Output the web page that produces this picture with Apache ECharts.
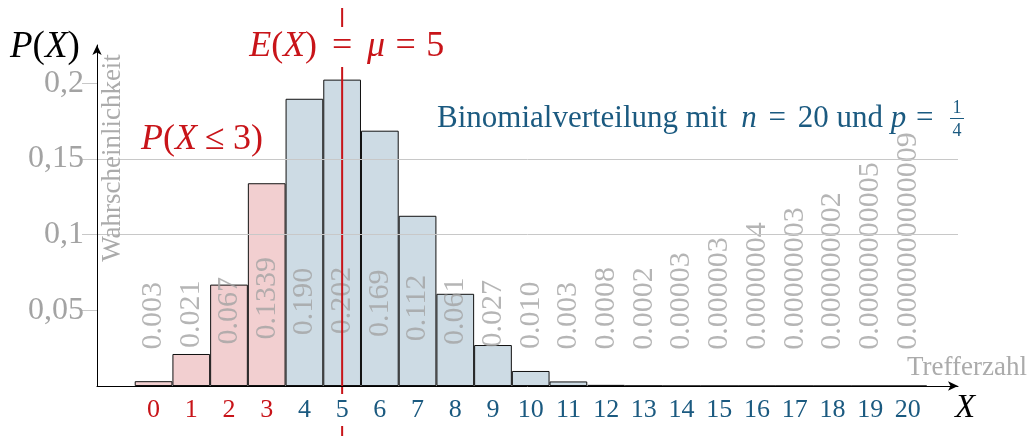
<!DOCTYPE html>
<html><head><meta charset="utf-8">
<script src="https://cdn.jsdelivr.net/npm/echarts@6/dist/echarts.min.js"></script>
<style>html,body{margin:0;padding:0;background:#fff}#c{width:1032px;height:436px}</style>
</head><body><div id="c"></div>
<script>
// ---- data ----
const categories = [0,1,2,3,4,5,6,7,8,9,10,11,12,13,14,15,16,17,18,19,20];
const probabilities = [0.00317, 0.02114, 0.06695, 0.13390, 0.18969, 0.20233, 0.16861, 0.11241, 0.06089, 0.02706, 0.00992, 0.00301, 0.00075, 0.00015, 0.000026, 0.0000034, 0.00000035, 0.000000028, 0.0000000016, 0.000000000054, 0.00000000000091];
const valueLabels = ["0.003","0.021","0.067","0.1339","0.190","0.202","0.169","0.112","0.061","0.027","0.010","0.003","0.0008","0.0002","0.00003","0.000003","0.0000004","0.00000003","0.000000002","0.00000000005","0.0000000000009"];
const yTicks = [0.05, 0.1, 0.15, 0.2];
const cumulativeUpTo = 3;   // P(X <= 3)
const expectedValue = 5;    // E(X) = mu

// ---- style ----
const FONT = '"Liberation Serif", "DejaVu Serif", serif';
const RED = '#c81419', BLUE = '#1b5a80', GREY = '#a3a3a3', LGREY = '#ababab';
const PINK = '#f2cfd0', LBLUE = '#cddbe4';
const X_MIN = -1.5, X_MAX = 21.33, Y_MAX = 0.2252;
const GRID = {left: 97, right: 74, top: 45, bottom: 50};

const chart = echarts.init(document.getElementById('c'), null, {renderer: 'canvas'});
const gridW = 1032 - GRID.left - GRID.right;
const unit = gridW / (X_MAX - X_MIN);

const barData = categories.map((k, i) => [k, probabilities[i]]);
const labelData = categories.map((k, i) => [k, 0.024 + 0.05 * probabilities[i]]);

chart.setOption({
  animation: false,
  grid: GRID,
  xAxis: {
    type: 'value', min: X_MIN, max: X_MAX, z: 10,
    splitLine: {show: false},
    axisTick: {show: false},
    axisLine: {show: true, onZero: false, lineStyle: {color: '#000', width: 1}, symbol: ['none', 'arrow'], symbolSize: [7, 10]},
    axisLabel: {
      customValues: categories, fontFamily: FONT, fontSize: 26, margin: 8,
      backgroundColor: '#fff', padding: [3, 1],
      color: (v) => (v <= cumulativeUpTo ? RED : BLUE)
    }
  },
  yAxis: {
    type: 'value', min: 0, max: Y_MAX, interval: 0.05, z: 10,
    splitLine: {show: true, showMinLine: false, showMaxLine: false, lineStyle: {color: '#c8c8c8', width: 1}},
    axisTick: {show: true, customValues: yTicks, length: 15, lineStyle: {color: '#c8c8c8'}},
    axisLine: {show: true, onZero: false, lineStyle: {color: '#000', width: 1}, symbol: ['none', 'arrow'], symbolSize: [7, 10]},
    axisLabel: {
      customValues: yTicks, fontFamily: FONT, fontSize: 32, color: GREY, margin: 13,
      formatter: (v) => String(v).replace('.', ',')
    }
  },
  series: [
    {
      type: 'bar', data: barData, barWidth: unit, z: 2,
      itemStyle: {
        borderColor: '#111', borderWidth: 1,
        color: (p) => (p.data[0] <= cumulativeUpTo ? PINK : LBLUE)
      }
    },
    {
      type: 'scatter', data: labelData, symbolSize: 0, z: 4, silent: true,
      label: {
        show: true, position: 'inside', rotate: 90, align: 'left', verticalAlign: 'middle',
        fontFamily: FONT, fontSize: 30, color: GREY,
        formatter: (p) => valueLabels[p.dataIndex]
      }
    }
  ]
});

const ex = chart.convertToPixel({xAxisIndex: 0}, expectedValue);
const rich = (size, color, extra) => Object.assign({
  i: {fontFamily: FONT, fontStyle: 'italic', fontSize: size, color: color, fill: color},
  r: {fontFamily: FONT, fontSize: size, color: color, fill: color}
}, extra || {});
const tok = (size, color, w, italic) => ({fontFamily: FONT, fontStyle: italic ? 'italic' : 'normal', fontSize: size, color: color, fill: color, width: w, align: 'center'});

chart.setOption({
  graphic: {elements: [
    {type: 'line', z: 5, shape: {x1: ex, y1: 8, x2: ex, y2: 436}, style: {stroke: RED, lineWidth: 2}},
    {type: 'text', z: 20, x: ex - 96, y: 47, style: {
      text: '{i|E}{r|(}{i|X}{r|)}{a|=}{i|μ}{b|=}{r|5}',
      rich: rich(36, RED, {a: tok(36, RED, 50), b: tok(36, RED, 41)}),
      align: 'left', verticalAlign: 'middle', backgroundColor: '#fff', padding: [2, 3]}},
    {type: 'text', z: 20, x: 10, y: 47, style: {
      text: '{i|P}{r|(}{i|X}{r|)}', rich: rich(37, '#000'), align: 'left', verticalAlign: 'middle'}},
    {type: 'text', z: 20, x: 141, y: 140, style: {
      text: '{i|P}{r|(}{i|X}{a|≤}{r|3)}', rich: rich(36, RED, {a: tok(36, RED, 36)}),
      align: 'left', verticalAlign: 'middle'}},
    {type: 'text', z: 20, x: 437, y: 119, style: {
      text: '{r|Binomialverteilung mit}{s| }{i|n}{a|=}{r|20 und }{i|p}{b|=}',
      rich: rich(31, BLUE, {s: tok(31, BLUE, 14), a: tok(31, BLUE, 41), b: tok(31, BLUE, 37)}),
      align: 'left', verticalAlign: 'middle'}},
    {type: 'text', z: 20, x: 957, y: 108, style: {text: '1', font: '18px ' + FONT, fill: BLUE, align: 'center', verticalAlign: 'middle'}},
    {type: 'line', z: 20, shape: {x1: 950, y1: 118.5, x2: 964, y2: 118.5}, style: {stroke: BLUE, lineWidth: 1}},
    {type: 'text', z: 20, x: 957, y: 131, style: {text: '4', font: '18px ' + FONT, fill: BLUE, align: 'center', verticalAlign: 'middle'}},
    {type: 'text', z: 20, x: 113, y: 158, rotation: Math.PI / 2, style: {
      text: 'Wahrscheinlichkeit', font: '27px ' + FONT, fill: LGREY, align: 'center', verticalAlign: 'middle'}},
    {type: 'text', z: 20, x: 1027, y: 368, style: {
      text: 'Trefferzahl', font: '27px ' + FONT, fill: LGREY, align: 'right', verticalAlign: 'middle'}},
    {type: 'text', z: 20, x: 965, y: 408, style: {
      text: 'X', font: 'italic 33px ' + FONT, fill: '#000', align: 'center', verticalAlign: 'middle'}}
  ]}
});
</script></body></html>
